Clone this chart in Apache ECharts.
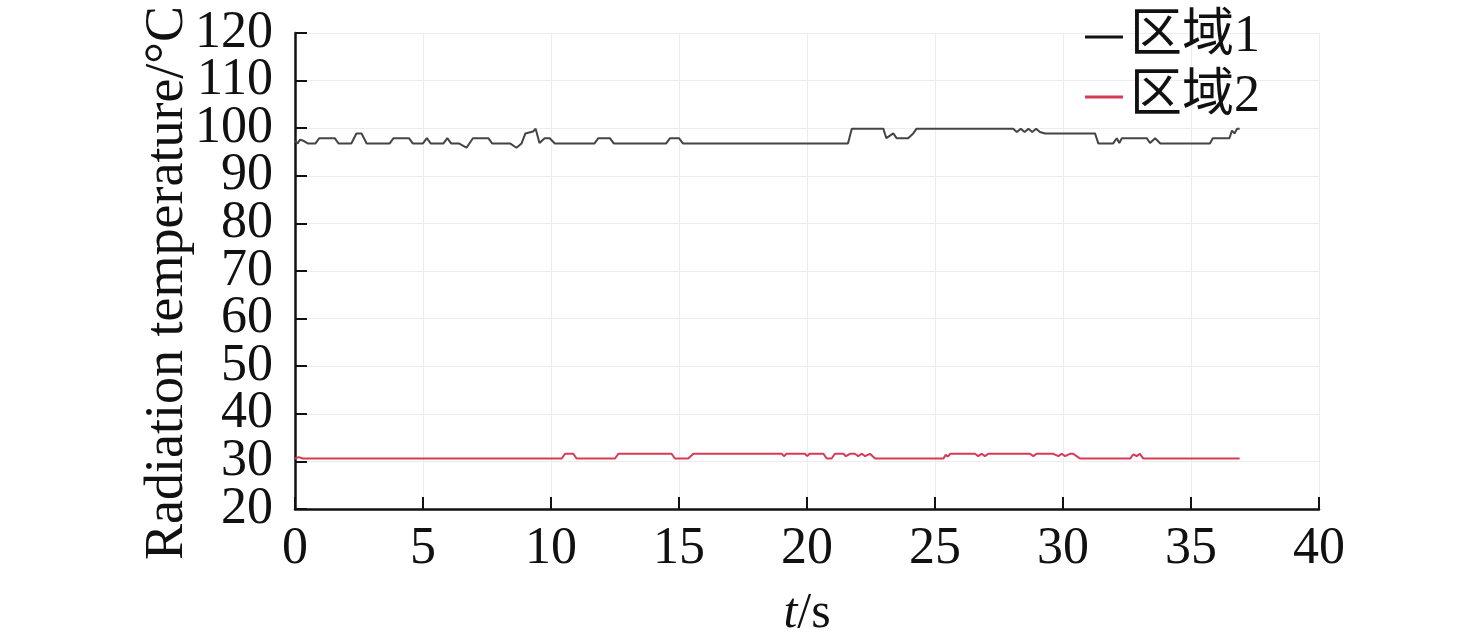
<!DOCTYPE html>
<html>
<head>
<meta charset="utf-8">
<script src="https://cdn.jsdelivr.net/npm/echarts@6/dist/echarts.min.js"></script>
<style>html,body{margin:0;padding:0;background:#fff;}#c{width:1476px;height:644px;}</style>
</head>
<body>
<div id="c"></div>
<script>
const seriesNames = ['区域1', '区域2'];
const xTicks = [0, 5, 10, 15, 20, 25, 30, 35, 40];
const yTicks = [20, 30, 40, 50, 60, 70, 80, 90, 100, 110, 120];

const t1 = [0.0, 0.1, 0.2, 0.35, 0.5, 0.8, 0.95, 1.55, 1.7, 2.2, 2.4, 2.6, 2.8, 3.7, 3.85, 4.45, 4.6, 5.0, 5.15, 5.3, 5.8, 5.95, 6.1, 6.4, 6.7, 6.95, 7.55, 7.7, 8.4, 8.65, 8.85, 9.0, 9.3, 9.4, 9.55, 9.75, 9.95, 10.15, 11.7, 11.85, 12.3, 12.45, 14.5, 14.65, 15.0, 15.15, 21.6, 21.75, 22.98, 23.1, 23.37, 23.5, 23.95, 24.15, 24.28, 28.05, 28.2, 28.35, 28.5, 28.65, 28.8, 28.95, 29.1, 29.3, 31.25, 31.38, 31.96, 32.1, 32.2, 32.3, 33.27, 33.4, 33.6, 33.8, 35.74, 35.85, 36.5, 36.6, 36.7, 36.8, 36.9];
const v1 = [97.3, 96.8, 97.6, 97.3, 96.8, 96.8, 97.9, 97.9, 96.8, 96.8, 98.9, 98.9, 96.8, 96.8, 97.9, 97.9, 96.8, 96.8, 97.9, 96.8, 96.8, 97.9, 96.8, 96.8, 95.9, 97.9, 97.9, 96.8, 96.8, 95.9, 96.8, 98.9, 99.3, 99.9, 96.9, 97.9, 97.9, 96.8, 96.8, 97.9, 97.9, 96.8, 96.8, 97.9, 97.9, 96.8, 96.8, 99.9, 99.9, 97.9, 98.9, 97.9, 97.9, 98.9, 99.9, 99.9, 99.2, 99.9, 99.2, 99.9, 99.2, 99.9, 99.2, 98.9, 98.9, 96.8, 96.8, 97.9, 96.9, 97.9, 97.9, 96.9, 97.9, 96.8, 96.8, 97.9, 97.9, 99.5, 98.9, 99.9, 99.9];

const t2 = [0.0, 0.15, 0.3, 10.42, 10.55, 10.87, 11.0, 12.5, 12.63, 14.71, 14.84, 15.36, 15.56, 19.01, 19.1, 19.2, 19.92, 20.01, 20.1, 20.64, 20.77, 20.96, 21.09, 21.42, 21.52, 21.68, 21.87, 22.0, 22.14, 22.27, 22.46, 22.66, 25.33, 25.42, 25.5, 25.6, 26.56, 26.69, 26.82, 26.95, 27.08, 28.71, 28.84, 28.97, 29.62, 29.82, 29.95, 30.08, 30.27, 30.4, 30.53, 30.66, 32.62, 32.75, 32.88, 33.0, 33.14, 36.9];
const v2 = [30.6, 30.9, 30.6, 30.6, 31.6, 31.6, 30.6, 30.6, 31.6, 31.6, 30.6, 30.6, 31.6, 31.6, 31.1, 31.6, 31.6, 31.1, 31.6, 31.6, 30.6, 30.6, 31.6, 31.6, 31.1, 31.6, 31.6, 31.1, 31.6, 31.1, 31.6, 30.6, 30.6, 31.4, 31.0, 31.6, 31.6, 31.1, 31.6, 31.1, 31.6, 31.6, 31.1, 31.6, 31.6, 31.1, 31.6, 31.1, 31.6, 31.6, 31.1, 30.6, 30.6, 31.5, 31.1, 31.6, 30.6, 30.6];

const font = 'Liberation Serif, Times New Roman, Noto Sans CJK SC, serif';
const yMin = yTicks[0], yMax = yTicks[yTicks.length - 1];
// Two overlaid left axes share the same scale: one labels even tens, the other odd tens,
// so ECharts' overlap-hiding never drops any of the tightly packed labels.
const labelFmt = (parity) => (v) => (Math.round(v / 10) % 2 === parity ? String(v) : '');
const yLabelStyle = { fontFamily: font, fontSize: 52, color: '#111', margin: 22, showMinLabel: true, showMaxLabel: true };

const chart = echarts.init(document.getElementById('c'));
chart.setOption({
  animation: false,
  backgroundColor: '#fff',
  grid: { left: 295, right: 157, top: 33, bottom: 134, containLabel: false },
  legend: {
    orient: 'vertical', left: 1080, top: 6,
    itemWidth: 38, itemHeight: 3, itemGap: 8, icon: 'rect',
    textStyle: { fontFamily: font, fontSize: 52, color: '#111', padding: [0, 0, 0, 2] },
    data: [
      { name: seriesNames[0], itemStyle: { color: '#111' } },
      { name: seriesNames[1], itemStyle: { color: '#d63a55' } }
    ]
  },
  xAxis: {
    type: 'value', min: xTicks[0], max: xTicks[xTicks.length - 1], interval: 5,
    name: '{i|t}/s', nameLocation: 'middle', nameGap: 80, nameMoveOverlap: false,
    nameTextStyle: { fontFamily: font, fontSize: 50, color: '#111',
      rich: { i: { fontFamily: font, fontSize: 50, fontStyle: 'italic', color: '#111' } } },
    axisLine: { show: true, lineStyle: { color: '#111', width: 2.5 } },
    axisTick: { show: true, inside: true, length: 12, lineStyle: { color: '#111', width: 2 } },
    axisLabel: { fontFamily: font, fontSize: 52, color: '#111', margin: 14, showMinLabel: true, showMaxLabel: true },
    splitLine: { show: true, lineStyle: { color: '#ececec', width: 1 } }
  },
  yAxis: [
    {
      type: 'value', min: yMin, max: yMax, interval: 10, position: 'left',
      name: 'Radiation temperature/°C', nameLocation: 'middle', nameGap: 100, nameMoveOverlap: false,
      nameTextStyle: { fontFamily: font, fontSize: 54, color: '#111', padding: [0, 24, 0, 0] },
      axisLine: { show: true, lineStyle: { color: '#111', width: 2.5 } },
      axisTick: { show: true, inside: true, length: 12, lineStyle: { color: '#111', width: 2 } },
      axisLabel: Object.assign({ formatter: labelFmt(0) }, yLabelStyle),
      splitLine: { show: true, lineStyle: { color: '#ececec', width: 1 } }
    },
    {
      type: 'value', min: yMin, max: yMax, interval: 10, position: 'left', offset: 0,
      axisLine: { show: false }, axisTick: { show: false }, splitLine: { show: false },
      axisLabel: Object.assign({ formatter: labelFmt(1) }, yLabelStyle)
    }
  ],
  series: [
    { name: seriesNames[0], type: 'line', showSymbol: false, symbol: 'none',
      lineStyle: { color: '#444', width: 2 }, itemStyle: { color: '#111' },
      data: t1.map((t, i) => [t, v1[i]]) },
    { name: seriesNames[1], type: 'line', showSymbol: false, symbol: 'none',
      lineStyle: { color: '#d63a55', width: 2 }, itemStyle: { color: '#d63a55' },
      data: t2.map((t, i) => [t, v2[i]]) }
  ]
});
</script>
</body>
</html>
